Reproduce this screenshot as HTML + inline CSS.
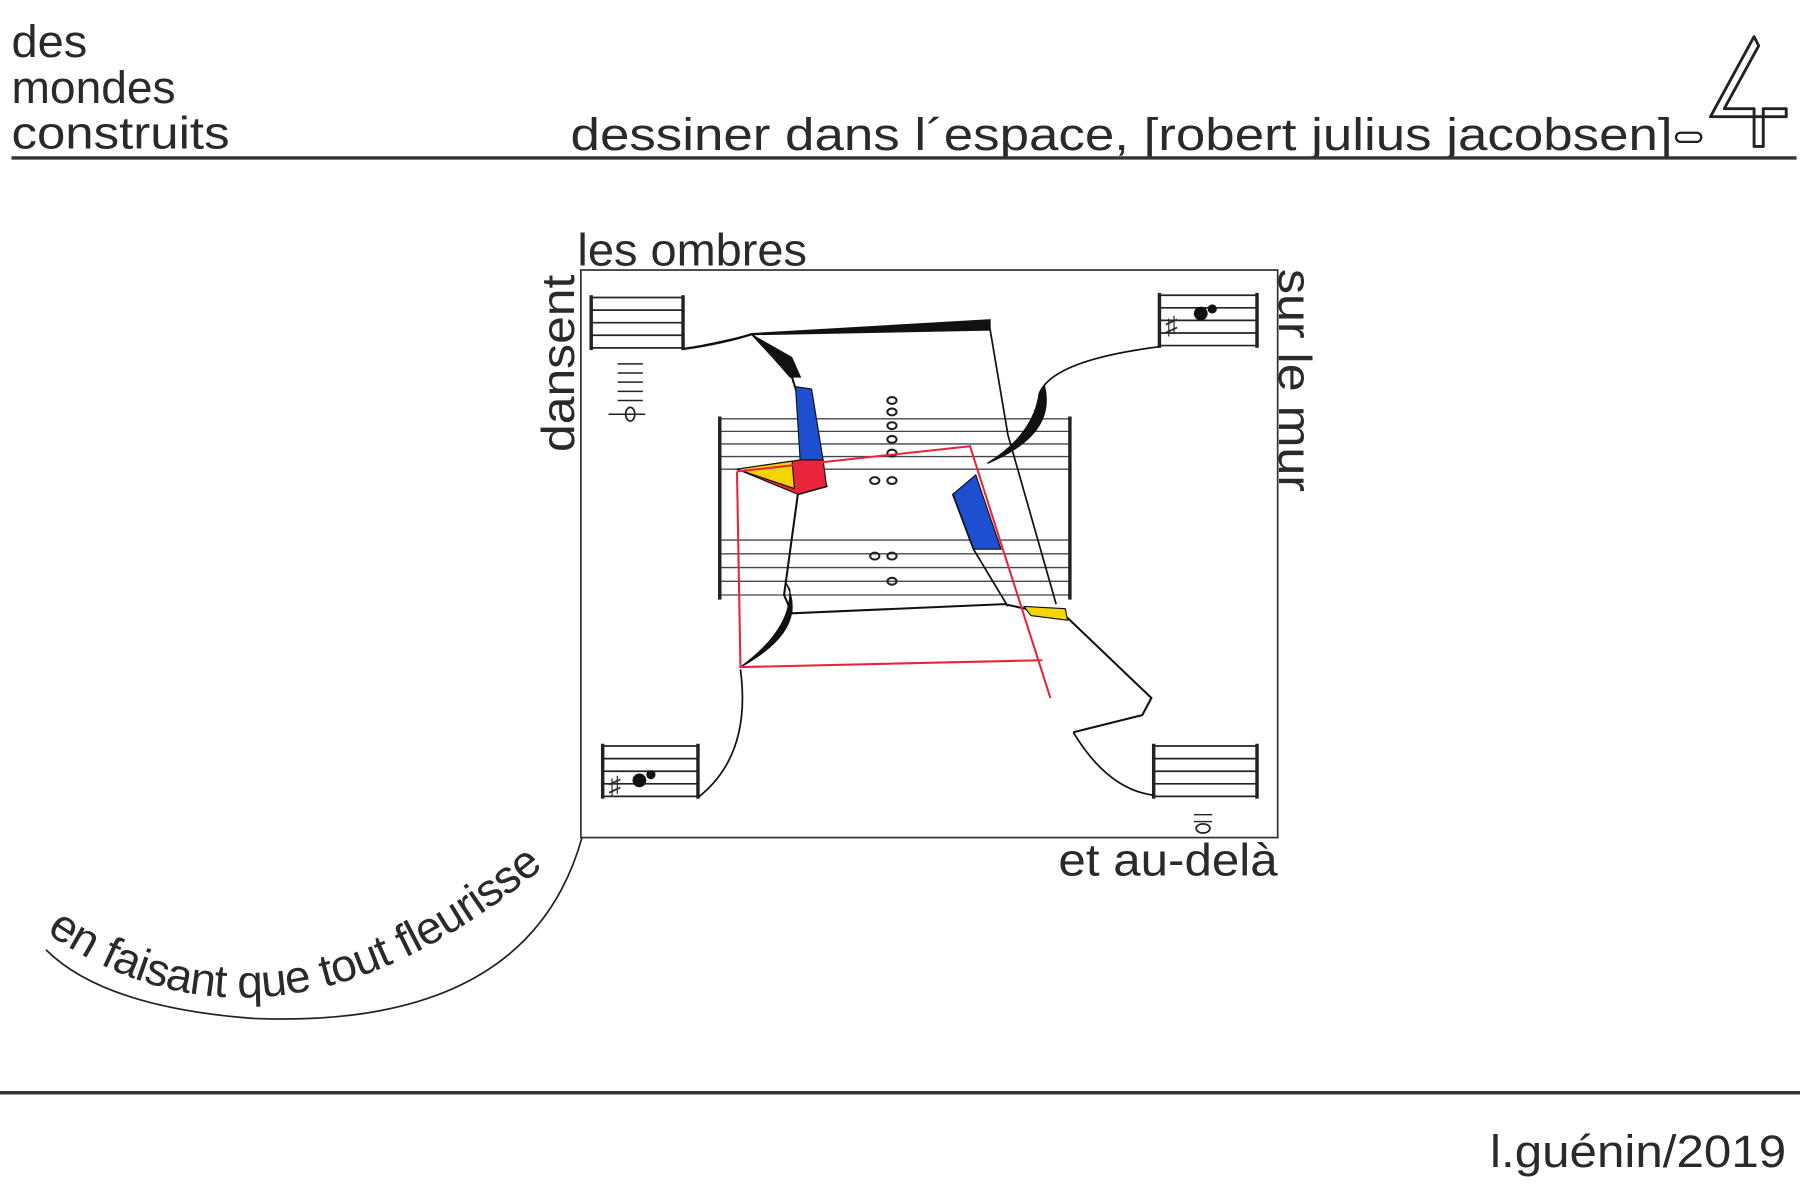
<!DOCTYPE html>
<html><head><meta charset="utf-8"><style>
html,body{margin:0;padding:0;background:#fff;}
svg{display:block}
text{font-family:"Liberation Sans Narrow","Liberation Sans",sans-serif;fill:#2a2a2a;}
</style></head><body>
<svg width="1800" height="1190" viewBox="0 0 1568 1040" preserveAspectRatio="none" xmlns="http://www.w3.org/2000/svg">
<rect width="1568" height="1040" fill="#fff"/>
<text x="10" y="50" font-size="40" textLength="66" lengthAdjust="spacingAndGlyphs">des</text>
<text x="10" y="90" font-size="40" textLength="143" lengthAdjust="spacingAndGlyphs">mondes</text>
<text x="10" y="130" font-size="40" textLength="190" lengthAdjust="spacingAndGlyphs">construits</text>
<text x="497" y="131" font-size="40" textLength="960" lengthAdjust="spacingAndGlyphs">dessiner dans l´espace, [robert julius jacobsen]</text>
<rect x="1460" y="116" width="22" height="8" rx="4" fill="none" stroke="#222" stroke-width="2"/>
<path d="M1528 32 L1490 102 L1556 102 L1556 95 L1536 95 L1536 128 L1528 128 L1528 95 L1502 95 L1532 40 Z" fill="none" stroke="#222" stroke-width="2.5" stroke-linejoin="round"/>
<line x1="10" y1="138" x2="1565" y2="138" stroke="#333" stroke-width="3"/>
<line x1="0" y1="955" x2="1568" y2="955" stroke="#333" stroke-width="3"/>
<text x="1298" y="1020" font-size="40" textLength="258" lengthAdjust="spacingAndGlyphs">l.guénin/2019</text>
<rect x="506" y="236" width="607" height="496" fill="none" stroke="#333" stroke-width="1.5"/>
<text x="503" y="232" font-size="40" textLength="200" lengthAdjust="spacingAndGlyphs">les ombres</text>
<text transform="translate(500,395) rotate(-90)" font-size="40" textLength="155" lengthAdjust="spacingAndGlyphs">dansent</text>
<text transform="translate(1114,235) rotate(90)" font-size="40" textLength="195" lengthAdjust="spacingAndGlyphs">sur le mur</text>
<text x="922" y="765" font-size="40" textLength="191" lengthAdjust="spacingAndGlyphs">et au-delà</text>
<path id="arc" d="M40 815 Q 250 960 500 735 L 560 680" fill="none"/>
<path d="M507 732 Q 460 900 220 890 Q 90 880 40 830" fill="none" stroke="#222" stroke-width="1.5"/>
<text font-size="40" letter-spacing="-0.5"><textPath href="#arc">en faisant que tout fleurisse</textPath></text>
<g stroke="#222" fill="none">
<g stroke-width="1.5"><line x1="515" y1="260" x2="595" y2="260"/><line x1="515" y1="271" x2="595" y2="271"/><line x1="515" y1="282" x2="595" y2="282"/><line x1="515" y1="293" x2="595" y2="293"/><line x1="515" y1="304" x2="595" y2="304"/></g>
<line x1="515" y1="258" x2="515" y2="306" stroke-width="3"/><line x1="595" y1="258" x2="595" y2="306" stroke-width="3"/>
<g stroke-width="1.5"><line x1="1010" y1="258" x2="1095" y2="258"/><line x1="1010" y1="269" x2="1095" y2="269"/><line x1="1010" y1="280" x2="1095" y2="280"/><line x1="1010" y1="291" x2="1095" y2="291"/><line x1="1010" y1="302" x2="1095" y2="302"/></g>
<line x1="1010" y1="256" x2="1010" y2="304" stroke-width="3"/><line x1="1095" y1="256" x2="1095" y2="304" stroke-width="3"/>
<g stroke-width="1.5"><line x1="525" y1="652" x2="608" y2="652"/><line x1="525" y1="663" x2="608" y2="663"/><line x1="525" y1="674" x2="608" y2="674"/><line x1="525" y1="685" x2="608" y2="685"/><line x1="525" y1="696" x2="608" y2="696"/></g>
<line x1="525" y1="650" x2="525" y2="698" stroke-width="3"/><line x1="608" y1="650" x2="608" y2="698" stroke-width="3"/>
<g stroke-width="1.5"><line x1="1005" y1="652" x2="1095" y2="652"/><line x1="1005" y1="663" x2="1095" y2="663"/><line x1="1005" y1="674" x2="1095" y2="674"/><line x1="1005" y1="685" x2="1095" y2="685"/><line x1="1005" y1="696" x2="1095" y2="696"/></g>
<line x1="1005" y1="650" x2="1005" y2="698" stroke-width="3"/><line x1="1095" y1="650" x2="1095" y2="698" stroke-width="3"/>
</g>
<circle cx="1046" cy="274" r="6" fill="#111"/><circle cx="1056" cy="270" r="4" fill="#111"/>
<circle cx="557" cy="682" r="6" fill="#111"/><circle cx="567" cy="677" r="4" fill="#111"/>
<text x="1015" y="292" font-size="22">♯</text><text x="530" y="694" font-size="22">♯</text>
<g stroke="#222" stroke-width="1.3"><line x1="538" y1="318" x2="560" y2="318"/><line x1="538" y1="326" x2="560" y2="326"/><line x1="538" y1="334" x2="560" y2="334"/><line x1="538" y1="342" x2="560" y2="342"/><line x1="538" y1="350" x2="560" y2="350"/><line x1="530" y1="362" x2="562" y2="362"/></g>
<ellipse cx="549" cy="362" rx="4" ry="6" fill="none" stroke="#222" stroke-width="1.5"/>
<g stroke="#222" stroke-width="1.3"><line x1="1040" y1="712" x2="1056" y2="712"/><line x1="1040" y1="718" x2="1056" y2="718"/></g>
<ellipse cx="1048" cy="724" rx="6" ry="4" fill="none" stroke="#222" stroke-width="1.5"/>
<g stroke="#445" stroke-width="1.2">
<line x1="627" y1="366" x2="932" y2="366"/><line x1="627" y1="377" x2="932" y2="377"/><line x1="627" y1="388" x2="932" y2="388"/><line x1="627" y1="399" x2="932" y2="399"/><line x1="627" y1="410" x2="932" y2="410"/>
<line x1="627" y1="472" x2="932" y2="472"/><line x1="627" y1="484" x2="932" y2="484"/><line x1="627" y1="496" x2="932" y2="496"/><line x1="627" y1="508" x2="932" y2="508"/><line x1="627" y1="520" x2="932" y2="520"/>
</g>
<line x1="627" y1="364" x2="627" y2="524" stroke="#222" stroke-width="3"/><line x1="932" y1="364" x2="932" y2="524" stroke="#222" stroke-width="3"/>
<g fill="none" stroke="#222" stroke-width="1.8">
<ellipse cx="777" cy="350" rx="4" ry="3"/><ellipse cx="777" cy="360" rx="4" ry="3"/><ellipse cx="777" cy="372" rx="4" ry="3"/><ellipse cx="777" cy="384" rx="4" ry="3"/><ellipse cx="777" cy="396" rx="4" ry="3"/>
<ellipse cx="762" cy="420" rx="4" ry="3"/><ellipse cx="777" cy="420" rx="4" ry="3"/>
<ellipse cx="762" cy="486" rx="4" ry="3"/><ellipse cx="777" cy="486" rx="4" ry="3"/><ellipse cx="777" cy="508" rx="4" ry="3"/>
</g>
<path d="M595 305 Q630 300 655 292 L862 280 L862 288 L655 292" fill="#111" stroke="#111" stroke-width="2"/>
<path d="M655 292 L690 330 L720 425 L695 432 L683 520 L690 536 L875 528 L930 540 L1003 610 L995 625 L935 640" fill="none" stroke="#111" stroke-width="1.8"/>
<path d="M862 285 L878 380 L920 528" fill="none" stroke="#111" stroke-width="1.5"/>
<path d="M655 292 L690 312 L698 330 L688 330 Z" fill="#111"/>
<path d="M693 338 L707 340 L717 402 L697 402 Z" fill="#1e4fd0" stroke="#111"/>
<path d="M642 410 L697 402 L717 402 L720 425 L695 432 Z" fill="#e8253a" stroke="#111"/>
<path d="M642 410 L690 403 L692 427 Z" fill="#f5d400" stroke="#111"/>
<path d="M830 432 L850 415 L872 480 L848 480 Z" fill="#1e4fd0" stroke="#111"/>
<path d="M830 432 L848 480 L878 530" fill="none" stroke="#111" stroke-width="1.5"/>
<path d="M892 530 L928 532 L930 542 L898 538 Z" fill="#f5d400" stroke="#111"/>
<path d="M910 338 Q920 380 860 405 Q900 380 905 345 Z" fill="#111" stroke="#111"/>
<path d="M905 345 Q915 315 1010 303" fill="none" stroke="#111" stroke-width="1.5"/>
<path d="M685 510 Q705 550 645 583 Q690 550 688 515 Z" fill="#111" stroke="#111"/>
<path d="M645 585 Q655 660 608 697" fill="none" stroke="#111" stroke-width="1.5"/>
<path d="M935 640 Q965 690 1005 695" fill="none" stroke="#111" stroke-width="1.5"/>
<path d="M642 412 L845 390 L915 610 M642 412 L645 583 L908 577" fill="none" stroke="#e8253a" stroke-width="1.8"/>
</svg>
</body></html>
